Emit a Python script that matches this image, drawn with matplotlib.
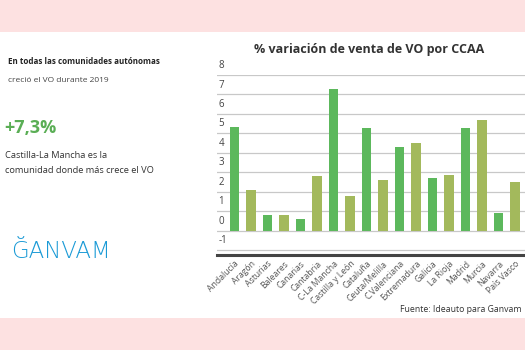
import matplotlib.pyplot as plt
from matplotlib.patches import Rectangle
import matplotlib.transforms as mtransforms

regiones = ['Andalucía', 'Aragón', 'Asturias', 'Baleares', 'Canarias', 'Cantabria',
            'C-La Mancha', 'Castilla y León', 'Cataluña', 'Ceuta/Melilla', 'C.Valenciana',
            'Extremadura', 'Galicia', 'La Rioja', 'Madrid', 'Murcia', 'Navarra', 'País Vasco']
variacion = [5.35, 2.1, 0.8, 0.8, 0.62, 2.8, 7.27, 1.8, 5.28, 2.62, 4.3, 4.48,
             2.7, 2.88, 5.28, 5.68, 0.9, 2.5]
yticks = [-1, 0, 1, 2, 3, 4, 5, 6, 7, 8]

verde = '#5cb85c'
oliva = '#a3b95c'
rosa = '#fde1e1'
colores = [verde if i % 2 == 0 else oliva for i in range(len(regiones))]

W, H = 525, 350
fig = plt.figure(figsize=(5.25, 3.5), dpi=100)
fig.patch.set_facecolor('white')

# bandas rosas arriba y abajo
fig.patches.append(Rectangle((0, 1 - 32 / H), 1, 32 / H, transform=fig.transFigure,
                             facecolor=rosa, edgecolor='none', zorder=0))
fig.patches.append(Rectangle((0, 0), 1, 32 / H, transform=fig.transFigure,
                             facecolor=rosa, edgecolor='none', zorder=0))

# ejes: x 217..525 px, y (8 -> 75px, -1.25 -> 255px)
ax = fig.add_axes([217 / W, 1 - 255 / H, (525 - 217) / W, (255 - 75) / H])
ax.set_facecolor('none')
ax.bar(range(len(regiones)), variacion, width=0.56, color=colores, zorder=3)
ax.set_xlim(-1.06, 17.6)
ax.set_ylim(-1.25, 8)

for v in yticks:
    ax.axhline(v, color='#c8c8c8', lw=0.9, zorder=1)
ax.set_yticks([])
trans = mtransforms.blended_transform_factory(ax.transAxes, ax.transData)
for v in yticks:
    ax.text(0.005, v + 0.2, str(v), transform=trans, fontsize=7, color='#444444',
            va='bottom', ha='left', family='Open Sans')

for s in ['top', 'right', 'left']:
    ax.spines[s].set_visible(False)
ax.spines['bottom'].set_linewidth(2.2)
ax.spines['bottom'].set_color('#444444')
ax.set_xticks(range(len(regiones)))
ax.set_xticklabels(regiones, rotation=45, ha='right', rotation_mode='anchor',
                   fontsize=6.2, color='#555555', family='Open Sans')
ax.tick_params(axis='x', length=0, pad=3)

fig.text(369 / W, 1 - 50 / H, '% variación de venta de VO por CCAA', ha='center',
         va='center', fontsize=9, fontweight='bold', color='#333333', family='Open Sans')
fig.text(522 / W, 1 - 309 / H, 'Fuente: Ideauto para Ganvam', ha='right', va='center',
         fontsize=6.3, color='#333333', family='Open Sans')

# textos de la izquierda
fig.text(8 / W, 1 - 62 / H, 'En todas las comunidades autónomas', ha='left', va='center',
         fontsize=5.8, fontweight='bold', color='#222222', family='Open Sans')
fig.text(8 / W, 1 - 80 / H, 'creció el VO durante 2019', ha='left', va='center',
         fontsize=6, color='#444444', family='Open Sans')
fig.text(4 / W, 1 - 128 / H, '+7,3%', ha='left', va='center',
         fontsize=13, fontweight='bold', color='#5aae55', family='Open Sans')
fig.text(5 / W, 1 - 155 / H, 'Castilla-La Mancha es la', ha='left', va='center',
         fontsize=6.7, color='#333333', family='Open Sans')
fig.text(5 / W, 1 - 170 / H, 'comunidad donde más crece el VO', ha='left', va='center',
         fontsize=6.7, color='#333333', family='Open Sans')

# logo
fig.text(11 / W, 1 - 252 / H, 'ĞANVAM', ha='left', va='center', fontsize=16.5,
         color='#1a9ad6', family='DejaVu Sans', fontweight='light')

fig.savefig('out.png', dpi=100, facecolor=fig.get_facecolor())
